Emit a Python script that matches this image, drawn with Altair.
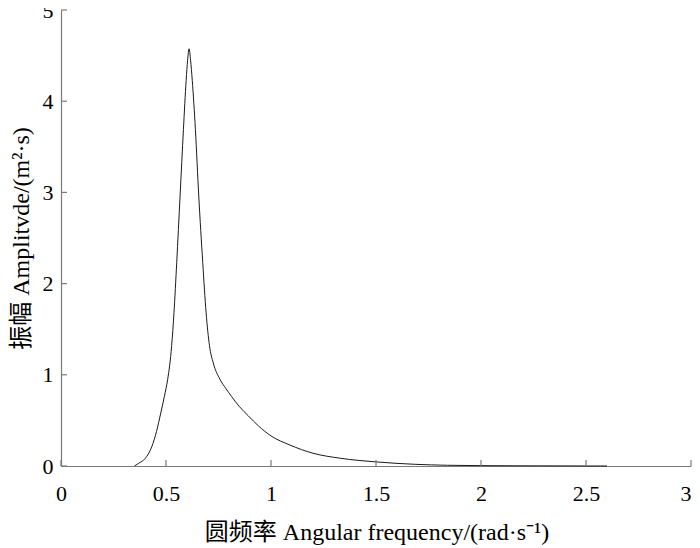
import altair as alt
import pandas as pd

# Angular frequency (rad/s) and amplitude values
freq = [0.35, 0.37, 0.40, 0.432, 0.455, 0.475, 0.492, 0.508, 0.527, 0.538, 0.551,
        0.567, 0.583, 0.596, 0.603, 0.61, 0.617, 0.625, 0.640, 0.656, 0.675,
        0.691, 0.707, 0.725, 0.757, 0.785, 0.813, 0.85, 0.892, 0.94, 1.0,
        1.09, 1.2, 1.33, 1.5, 1.69, 1.84, 2.0, 2.2, 2.4, 2.6]
amp = [0.0, 0.03, 0.08, 0.21, 0.38, 0.58, 0.76, 0.95, 1.32, 1.68, 2.23,
       2.96, 3.69, 4.23, 4.45, 4.575, 4.45, 4.23, 3.69, 2.96, 2.23,
       1.68, 1.32, 1.13, 0.95, 0.85, 0.76, 0.65, 0.55, 0.44, 0.33,
       0.23, 0.14, 0.085, 0.045, 0.018, 0.008, 0.004, 0.002, 0.001, 0.0]

x_ticks = [0, 0.5, 1, 1.5, 2, 2.5, 3]
y_ticks = [0, 1, 2, 3, 4, 5]

x_title = "圆频率 Angular frequency/(rad·s⁻¹)"
y_title = "振幅 Amplitvde/(m²·s)"

FONT = "Liberation Serif, Times New Roman, Noto Sans CJK SC, serif"
AXIS_COLOR = "#7a7a7a"

df = pd.DataFrame({"freq": freq, "amp": amp})
xt = pd.DataFrame({"t": x_ticks})
yt = pd.DataFrame({"t": y_ticks})

xscale = alt.Scale(domain=[0, 3], nice=False, zero=False)
yscale = alt.Scale(domain=[0, 5], nice=False)

line = alt.Chart(df).mark_line(color="#1a1a1a", strokeWidth=1, interpolate="monotone").encode(
    x=alt.X("freq:Q", scale=xscale,
            axis=alt.Axis(values=x_ticks, title=x_title, ticks=False, grid=False,
                          format="~g",
                          labelAlign={"condition": {"test": "datum.value >= 3", "value": "right"},
                                      "value": "center"},
                          domainColor=AXIS_COLOR, domainWidth=1.2,
                          labelFont=FONT, labelFontSize=22, labelColor="#000",
                          labelPadding=17, labelFlush=False,
                          titleFont=FONT, titleFontSize=24, titleFontWeight="normal",
                          titleColor="#000", titleX=315.5, titleY=73,
                          titleBaseline="alphabetic", titleAlign="center")),
    y=alt.Y("amp:Q", scale=yscale,
            axis=alt.Axis(values=y_ticks, title=y_title, ticks=False, grid=False,
                          format="d",
                          domainColor=AXIS_COLOR, domainWidth=1.2,
                          labelFont=FONT, labelFontSize=22, labelColor="#000",
                          labelPadding=8, labelFlush=False,
                          titleFont=FONT, titleFontSize=24, titleFontWeight="normal",
                          titleColor="#000", titleX=-40, titleY=228,
                          titleAngle=270, titleBaseline="middle", titleAlign="center")),
)

# inward tick marks
xticks_layer = alt.Chart(xt).mark_rule(color=AXIS_COLOR, strokeWidth=1.2).encode(
    x=alt.X("t:Q", scale=xscale),
    y=alt.value(456),
    y2=alt.value(450),
)
yticks_layer = alt.Chart(yt).mark_rule(color=AXIS_COLOR, strokeWidth=1.2).encode(
    y=alt.Y("t:Q", scale=yscale),
    x=alt.value(0),
    x2=alt.value(6),
)

chart = alt.layer(line, xticks_layer, yticks_layer).properties(
    width=630,
    height=456,
    autosize=alt.AutoSizeParams(type="none"),
    padding={"left": 53, "top": 2, "right": 1, "bottom": 80},
    background="white",
).configure_view(stroke=None)

chart.save("out.html", embed_options={"renderer": "svg", "actions": False})
